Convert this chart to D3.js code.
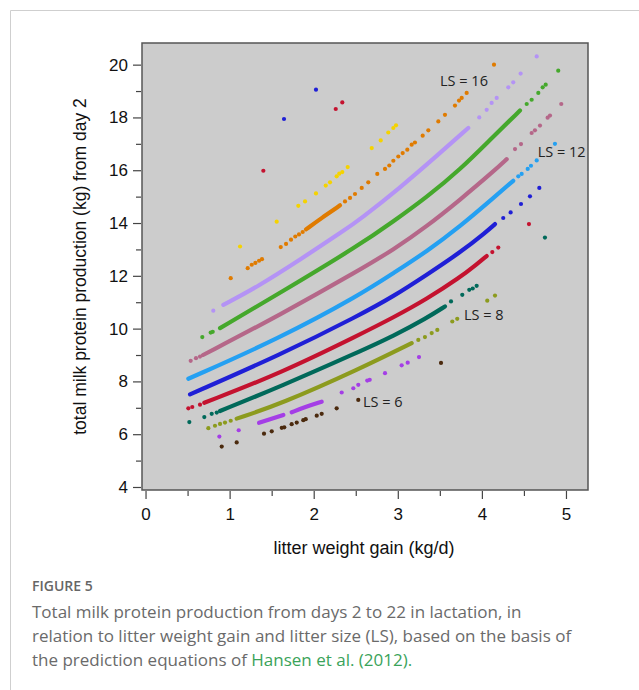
<!DOCTYPE html>
<html>
<head>
<meta charset="utf-8">
<script src="https://cdn.jsdelivr.net/npm/d3@7"></script>
<style>
  body { margin: 0; background: #fff; }
  svg { display: block; }
</style>
</head>
<body>
<div id="chart"></div>
<script>
// Values: [litter weight gain, protein kg]
// dense runs of points are kept as "Line" arrays, isolated points as "Dots"
const ls6Line = [];
const ls6Dots = [[0.906,5.53],[1.084,5.69],[1.409,6.02],[1.501,6.11],[1.620,6.24],[1.650,6.26],[1.738,6.38],[1.798,6.44],[1.876,6.53],[1.905,6.57],[2.036,6.70],[2.095,6.77],[2.273,6.98],[2.530,7.30],[3.514,8.70]];

const ls7Line = [[1.350,6.43],[1.639,6.73],null,[1.738,6.83],[1.908,7.04],[2.095,7.23]];
const ls7Dots = [[0.878,5.91],[1.108,6.15],[2.333,7.58],[2.471,7.74],[2.530,7.87],[2.637,8.03],[2.666,8.06],[2.848,8.31],[3.046,8.61],[3.118,8.71],[3.252,8.92]];

const ls8Line = [[1.084,6.59],[1.599,7.13],[2.551,8.48],[3.165,9.45]];
const ls8Dots = [[0.747,6.23],[0.826,6.32],[0.886,6.39],[0.945,6.44],[1.013,6.51],[3.244,9.57],[3.323,9.68],[3.403,9.83],[3.470,9.95],[3.648,10.27],[3.707,10.37],[4.064,11.06],[4.156,11.25]];

const ls9Line = [[0.886,6.88],[1.599,7.80],[2.551,9.14],[2.947,9.72],[3.344,10.40],[3.561,10.84]];
const ls9Dots = [[0.521,6.46],[0.699,6.65],[0.787,6.77],[0.847,6.82],[3.633,11.03],[3.767,11.28],[3.850,11.47],[3.891,11.52],[3.938,11.62],[4.750,13.45]];

const ls10Line = [[0.699,7.19],[1.599,8.30],[2.551,9.78],[2.947,10.42],[3.344,11.12],[3.740,11.94],[3.938,12.44],[4.057,12.75]];
const ls10Dots = [[0.509,6.98],[0.556,7.03],[0.648,7.12],[4.124,12.90],[4.195,13.07],[4.560,13.96]];

const ls11Line = [[0.529,7.51],[1.599,9.00],[2.551,10.52],[2.947,11.22],[3.344,12.04],[3.740,12.88],[4.057,13.68],[4.156,13.96]];
const ls11Dots = [[4.254,14.19],[4.342,14.40],[4.465,14.72],[4.572,15.01],[4.683,15.33]];

const ls12Line = [[0.509,8.10],[1.599,9.64],[2.551,11.28],[2.947,12.10],[3.344,12.92],[3.740,13.87],[4.136,14.95],[4.373,15.60]];
const ls12Dots = [[4.433,15.77],[4.473,15.86],[4.545,16.05],[4.584,16.17],[4.652,16.37],[4.869,17.00]];

const ls13Line = [[0.684,9.00],[1.599,10.52],[2.551,12.23],[2.947,12.99],[3.344,13.87],[3.740,14.88],[4.136,15.95],[4.295,16.42]];
const ls13Dots = [[0.537,8.78],[0.600,8.88],[0.648,8.94],[4.394,16.80],[4.465,16.99],[4.592,17.41],[4.631,17.51],[4.691,17.69],[4.782,17.99],[4.810,18.07],[4.944,18.51]];

const ls14Line = [[0.886,10.02],[1.599,11.35],[2.551,13.18],[2.947,14.06],[3.344,14.98],[3.740,16.02],[4.136,17.28],[4.453,18.26]];
const ls14Dots = [[0.675,9.68],[0.775,9.85],[0.799,9.88],[4.533,18.51],[4.592,18.67],[4.671,18.93],[4.723,19.14],[4.759,19.24],[4.908,19.77]];

const ls15Line = [[0.925,10.90],[1.334,11.59],[1.837,12.61],[2.372,13.74],[2.551,14.14],[3.026,15.33],[3.502,16.65],[3.838,17.60]];
const ls15Dots = [[0.806,10.68],[3.969,18.00],[4.057,18.29],[4.116,18.55],[4.176,18.74],[4.314,19.14],[4.373,19.33],[4.461,19.66],[4.652,20.31]];

const ls16Line = [[1.908,13.76],[2.099,14.20],[2.313,14.67]];
const ls16Dots = [[1.013,11.91],[1.215,12.29],[1.263,12.42],[1.306,12.49],[1.350,12.57],[1.385,12.63],[1.608,13.09],[1.671,13.21],[1.730,13.37],[1.781,13.49],[1.825,13.57],[1.869,13.66],[2.372,14.82],[2.432,14.95],[2.491,15.10],[2.571,15.33],[2.649,15.54],[2.756,15.86],[2.848,16.05],[2.899,16.18],[2.947,16.36],[3.006,16.52],[3.058,16.65],[3.113,16.78],[3.165,16.97],[3.204,17.05],[3.296,17.31],[3.363,17.51],[3.482,17.85],[3.561,18.10],[3.680,18.45],[3.728,18.64],[3.760,18.74],[3.819,18.93],[4.144,20.00]];

const ls17Line = [];
const ls17Dots = [[1.124,13.11],[1.560,14.05],[1.817,14.65],[1.897,14.82],[2.027,15.12],[2.143,15.42],[2.194,15.54],[2.273,15.77],[2.304,15.87],[2.340,15.93],[2.404,16.12],[2.690,16.84],[2.797,17.13],[2.887,17.43],[2.947,17.60],[2.979,17.70]];

const ls18Dots = [[1.401,15.98],[2.262,18.32],[2.340,18.57]];
const ls19Dots = [[1.647,17.94],[2.027,19.05]];

const seriesLines = [ls6Line, ls7Line, ls8Line, ls9Line, ls10Line, ls11Line, ls12Line, ls13Line, ls14Line, ls15Line, ls16Line, ls17Line, [], []];
const seriesDots = [ls6Dots, ls7Dots, ls8Dots, ls9Dots, ls10Dots, ls11Dots, ls12Dots, ls13Dots, ls14Dots, ls15Dots, ls16Dots, ls17Dots, ls18Dots, ls19Dots];
const seriesColors = ["#4b2a0e", "#a43ee6", "#8c9b1e", "#00695a", "#c4122f", "#1f1fd6", "#24a0f2", "#b56789", "#45a82c", "#b493f5", "#e07b00", "#f5d300", "#c4122f", "#1f1fd6"];

// curve labels
const labelText = ["LS = 16", "LS = 12", "LS = 8", "LS = 6"];
const labelX = [3.502, 4.663, 3.787, 2.586];
const labelY = [19.37, 16.70, 10.52, 7.23];

const yMajorTicks = [4, 6, 8, 10, 12, 14, 16, 18, 20];
const yMinorTicks = [5, 7, 9, 11, 13, 15, 17, 19];
const xMajorTicks = [0, 1, 2, 3, 4, 5];
const xMinorTicks = [0.5, 1.5, 2.5, 3.5, 4.5];

const captionHead = "FIGURE 5";
const captionLines = [
    "Total milk protein production from days 2 to 22 in lactation, in",
    "relation to litter weight gain and litter size (LS), based on the basis of",
    "the prediction equations of "
];
const captionLink = "Hansen et al. (2012).";

const width = 639;
const height = 690;
const plot = { left: 142, top: 43, right: 588, bottom: 490 };

const svg = d3.select("#chart")
    .append("svg")
    .attr("width", width)
    .attr("height", height);

// light page frame
svg.append("path")
    .attr("d", `M10.5,${height} V10.5 H${width}`)
    .attr("fill", "none")
    .attr("stroke", "#cfcfcf")
    .attr("stroke-width", 1);

const xScale = d3.scaleLinear()
    .domain([-0.042, 5.262])
    .range([plot.left, plot.right]);

const yScale = d3.scaleLinear()
    .domain([3.886, 20.82])
    .range([plot.bottom, plot.top]);

// plot background
svg.append("rect")
    .attr("x", plot.left)
    .attr("y", plot.top)
    .attr("width", plot.right - plot.left)
    .attr("height", plot.bottom - plot.top)
    .attr("fill", "#cccccc");

svg.append("clipPath").attr("id", "plotclip")
    .append("rect")
    .attr("x", plot.left)
    .attr("y", plot.top)
    .attr("width", plot.right - plot.left)
    .attr("height", plot.bottom - plot.top);

const marks = svg.append("g").attr("clip-path", "url(#plotclip)");

// basis spline smooths out the small reading errors between points
const line = d3.line()
    .defined(d => d !== null)
    .x(d => xScale(d[0]))
    .y(d => yScale(d[1]))
    .curve(d3.curveBasis);

seriesDots.forEach((dots, i) => {
    const color = seriesColors[i];
    if (seriesLines[i].length) {
        marks.append("path")
            .attr("d", line(seriesLines[i]))
            .attr("fill", "none")
            .attr("stroke", color)
            .attr("stroke-width", 4.2)
            .attr("stroke-linecap", "round");
    }
    marks.selectAll(null)
        .data(dots)
        .join("circle")
        .attr("cx", d => xScale(d[0]))
        .attr("cy", d => yScale(d[1]))
        .attr("r", 2.1)
        .attr("fill", color);
});

// labels next to the curves
svg.selectAll(".ls-label")
    .data(labelText)
    .join("text")
    .attr("class", "ls-label")
    .attr("x", (d, i) => xScale(labelX[i]))
    .attr("y", (d, i) => yScale(labelY[i]))
    .attr("dy", "0.36em")
    .attr("font-family", "'Open Sans', sans-serif")
    .attr("font-size", "14.5px")
    .attr("fill", "#222")
    .text(d => d);

// frame around the plot
svg.append("rect")
    .attr("x", plot.left)
    .attr("y", plot.top)
    .attr("width", plot.right - plot.left)
    .attr("height", plot.bottom - plot.top)
    .attr("fill", "none")
    .attr("stroke", "#555")
    .attr("stroke-width", 1.5);

const tickFont = "'Liberation Sans', Arial, sans-serif";

// y axis
const yAxis = svg.append("g")
    .attr("transform", `translate(${plot.left - 1}, 0)`)
    .call(d3.axisLeft(yScale).tickValues(yMajorTicks).tickFormat(d3.format("d")).tickSize(8).tickPadding(5));
yAxis.append("g")
    .call(d3.axisLeft(yScale).tickValues(yMinorTicks).tickSize(5).tickFormat(""))
    .select(".domain").remove();
yAxis.select(".domain").remove();

// x axis
const xAxis = svg.append("g")
    .attr("transform", `translate(0, ${plot.bottom + 1})`)
    .call(d3.axisBottom(xScale).tickValues(xMajorTicks).tickFormat(d3.format("d")).tickSize(8).tickPadding(9));
xAxis.append("g")
    .call(d3.axisBottom(xScale).tickValues(xMinorTicks).tickSize(5).tickFormat(""))
    .select(".domain").remove();
xAxis.select(".domain").remove();

svg.selectAll(".tick line").attr("stroke", "#444").attr("stroke-width", 1.2);
svg.selectAll(".tick text")
    .attr("font-family", tickFont)
    .attr("font-size", "17px")
    .attr("fill", "#111");

// axis titles
svg.append("text")
    .attr("x", 364)
    .attr("y", 554)
    .attr("text-anchor", "middle")
    .attr("font-family", tickFont)
    .attr("font-size", "18px")
    .attr("fill", "#111")
    .text("litter weight gain (kg/d)");

svg.append("text")
    .attr("transform", `translate(86, ${(plot.top + plot.bottom) / 2}) rotate(-90)`)
    .attr("text-anchor", "middle")
    .attr("font-family", tickFont)
    .attr("font-size", "17.5px")
    .attr("fill", "#111")
    .text("total milk protein production (kg) from day 2");

// caption
svg.append("text")
    .attr("x", 32)
    .attr("y", 591)
    .attr("font-family", "'Open Sans', sans-serif")
    .attr("font-size", "14px")
    .attr("font-weight", 600)
    .attr("fill", "#666")
    .text(captionHead);

const caption = svg.append("g")
    .attr("font-family", "'Open Sans', sans-serif")
    .attr("font-size", "17px")
    .attr("fill", "#6a6a6a");

captionLines.forEach((t, i) => {
    const txt = caption.append("text")
        .attr("x", 32)
        .attr("y", 618 + i * 24)
        .text(t);
    if (i === captionLines.length - 1) {
        txt.append("tspan")
            .attr("fill", "#3aa35a")
            .text(captionLink);
    }
});
</script>
</body>
</html>
